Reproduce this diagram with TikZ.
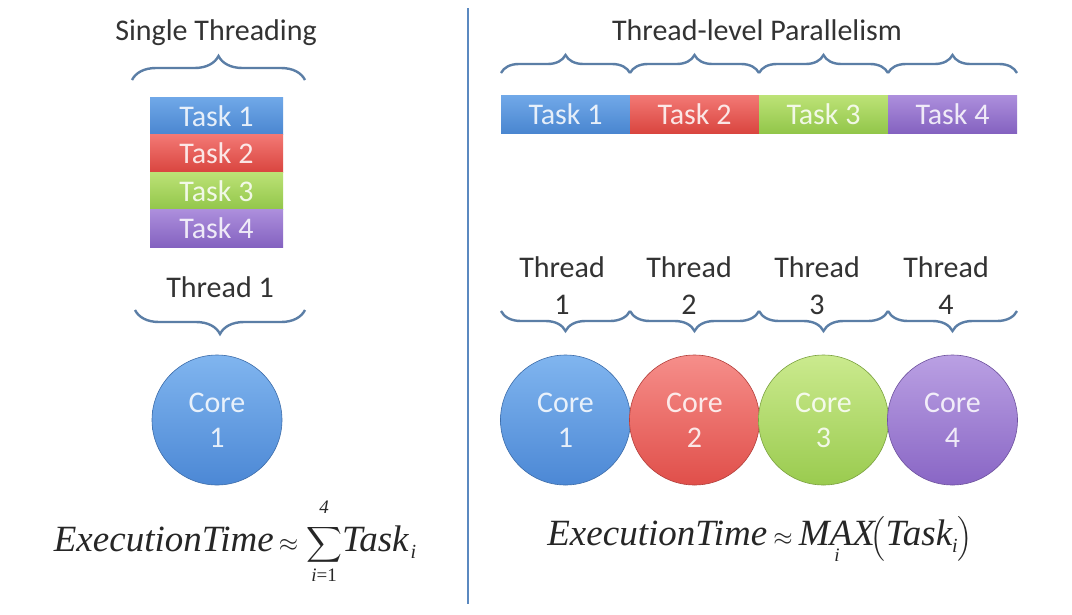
\documentclass[tikz,border=0pt]{standalone}
\usepackage{amsmath}
\usepackage{fontspec}
\setmainfont{Carlito}
\newfontfamily\tnr{Liberation Serif}
\usetikzlibrary{decorations.pathreplacing}
\definecolor{bT}{HTML}{70A8E8}\definecolor{bB}{HTML}{4A86D0}
\definecolor{rT}{HTML}{F27874}\definecolor{rB}{HTML}{D9453F}
\definecolor{gT}{HTML}{BCE276}\definecolor{gB}{HTML}{92C64A}
\definecolor{pT}{HTML}{AC8EDC}\definecolor{pB}{HTML}{8462C0}
\definecolor{bcT}{HTML}{80B5EF}\definecolor{bcB}{HTML}{4C88D5}
\definecolor{rcT}{HTML}{F68E8A}\definecolor{rcB}{HTML}{E04F4A}
\definecolor{gcT}{HTML}{CBEA8E}\definecolor{gcB}{HTML}{9ACB4F}
\definecolor{pcT}{HTML}{BAA0E3}\definecolor{pcB}{HTML}{8966C5}
\definecolor{bracec}{HTML}{5B7EA6}
\definecolor{sepc}{HTML}{5B89C0}
\definecolor{txt}{HTML}{333333}
\begin{document}
\begin{tikzpicture}[x=1pt,y=1pt,
  lbl/.style={font=\fontsize{30}{37}\selectfont, text=txt, inner sep=0pt, align=center},
  task/.style={minimum height=37.5pt, inner sep=0pt, font=\fontsize{30}{32}\selectfont, text=white, text opacity=0.85},
  core/.style={circle, minimum size=130pt, inner sep=0pt, font=\fontsize{30}{35}\selectfont, text=white, text opacity=0.85, align=center, draw=#1!80!black, line width=0.6pt},
  brc/.style={draw=bracec, line width=2.4pt, decorate, decoration={brace, amplitude=#1}},
  frm/.style={font=\tnr\fontsize{37}{40}\selectfont, text=black!85, inner sep=0pt}
]
\useasboundingbox (0,0) rectangle (1072,-614);
\fill[white] (0,0) rectangle (1072,-614);

% separator
\coordinate (s1) at (468,-8);
\coordinate (s2) at (468,-604);
\draw[sepc, line width=2.4pt] (s1) -- (s2);

% ---------- left ----------
\node[lbl] (tst) at (216,-33) {Single Threading};
\coordinate (lb1) at (132,-80);
\coordinate (lb2) at (305,-80);
\draw[brc=24pt] (lb1) -- (lb2);

\node[task, minimum width=133pt, top color=bT, bottom color=bB] (lt1) at (216.5,-116) {Task 1};
\node[task, minimum width=133pt, top color=rT, bottom color=rB] (lt2) at (216.5,-153.5) {Task 2};
\node[task, minimum width=133pt, top color=gT, bottom color=gB] (lt3) at (216.5,-191) {Task 3};
\node[task, minimum width=133pt, top color=pT, bottom color=pB] (lt4) at (216.5,-228.5) {Task 4};

\node[lbl] (lth) at (220,-287) {Thread 1};
\coordinate (lc1) at (305,-310);
\coordinate (lc2) at (135,-310);
\draw[brc=24pt] (lc1) -- (lc2);

\node[core=bcB, top color=bcT, bottom color=bcB] (lcore) at (217,-420) {Core\\1};

\node[frm, anchor=base] (f1) at (235,-551) {\itshape ExecutionTime\kern5pt$\approx$\kern8pt$\displaystyle\sum_{\mbox{\tnr\fontsize{19}{20}\selectfont\itshape i\upshape =1}}^{\mbox{\tnr\fontsize{19}{20}\selectfont\rule[-9pt]{0pt}{9pt}4}}$Task\raisebox{-7pt}{\fontsize{20}{20}\selectfont\itshape\kern2pt i}};

% ---------- right ----------
\node[lbl] (tlp) at (757,-30) {Thread-level Parallelism};
\foreach \i/\x in {1/501,2/630,3/759,4/888}{
  \coordinate (rb\i a) at (\x,-73);
  \coordinate (rb\i b) at (\x+129,-73);
  \draw[brc=18pt] (rb\i a) -- (rb\i b);
  \coordinate (rc\i a) at (\x+129,-311);
  \coordinate (rc\i b) at (\x,-311);
  \draw[brc=20pt] (rc\i a) -- (rc\i b);
}
\node[task, minimum width=129pt, top color=bT, bottom color=bB] (rt1) at (565.5,-114.5) {Task 1};
\node[task, minimum width=129pt, top color=rT, bottom color=rB] (rt2) at (694.5,-114.5) {Task 2};
\node[task, minimum width=129pt, top color=gT, bottom color=gB] (rt3) at (823.5,-114.5) {Task 3};
\node[task, minimum width=129pt, top color=pT, bottom color=pB] (rt4) at (952.5,-114.5) {Task 4};

\node[lbl] (th1) at (562,-286) {Thread\\1};
\node[lbl] (th2) at (689,-286) {Thread\\2};
\node[lbl] (th3) at (817,-286) {Thread\\3};
\node[lbl] (th4) at (946,-286) {Thread\\4};

\node[core=bcB, top color=bcT, bottom color=bcB] (c1) at (565.5,-420) {Core\\1};
\node[core=rcB, top color=rcT, bottom color=rcB] (c2) at (694.5,-420) {Core\\2};
\node[core=gcB, top color=gcT, bottom color=gcB] (c3) at (823.5,-420) {Core\\3};
\node[core=pcB, top color=pcT, bottom color=pcB] (c4) at (952.5,-420) {Core\\4};

\node[frm, anchor=base] (f2) at (760,-545) {\itshape ExecutionTime\,$\approx$\,$\displaystyle\mathop{\mbox{\tnr\fontsize{37}{40}\selectfont\itshape MAX}}\limits_{\mbox{\tnr\fontsize{19}{20}\selectfont\itshape i}}\!\Bigl(\mbox{\tnr\fontsize{37}{40}\selectfont\itshape Task\raisebox{-7pt}{\fontsize{20}{20}\selectfont i}}\Bigr)$};
\end{tikzpicture}
\end{document}
